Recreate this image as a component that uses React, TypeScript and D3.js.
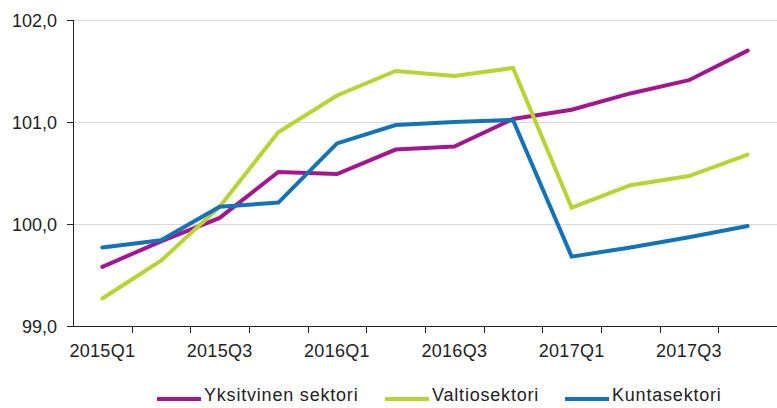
import React, { useEffect, useRef } from "react";
import * as d3 from "d3";

const quarters = [
  "2015Q1", "2015Q2", "2015Q3", "2015Q4",
  "2016Q1", "2016Q2", "2016Q3", "2016Q4",
  "2017Q1", "2017Q2", "2017Q3", "2017Q4",
];

const yksityinen = [99.58, 99.83, 100.06, 100.51, 100.49, 100.73, 100.76, 101.03, 101.12, 101.28, 101.41, 101.7];
const valtio     = [99.27, 99.64, 100.17, 100.9, 101.26, 101.5, 101.45, 101.53, 100.16, 100.38, 100.47, 100.68];
const kunta      = [99.77, 99.84, 100.17, 100.21, 100.79, 100.97, 101.0, 101.02, 99.68, 99.77, 99.87, 99.98];

const yTicks = [99, 100, 101, 102];

const seriesNames  = ["Yksitvinen sektori", "Valtiosektori", "Kuntasektori"];
const seriesColors = ["#a3168f", "#b8d332", "#1274b6"];

const W = 777;
const H = 408;

const App: React.FC = () => {
  const svgRef = useRef<SVGSVGElement>(null);

  useEffect(() => {
    document.body.style.margin = "0";
    if (!svgRef.current) return;
    const svg = d3.select(svgRef.current);
    svg.selectAll("*").remove();

    const left = 73, right = 777, top = 20, bottom = 326;
    const font = "'Liberation Sans', Arial, sans-serif";

    const x = d3.scaleBand<string>().domain(quarters).range([left, right]).padding(0);
    const y = d3.scaleLinear().domain([99, 102]).range([bottom, top]);

    // gridlines
    svg.append("g")
      .selectAll("line")
      .data(yTicks.filter(t => t > 99))
      .join("line")
      .attr("x1", left)
      .attr("x2", right)
      .attr("y1", d => Math.round(y(d)) + 0.5)
      .attr("y2", d => Math.round(y(d)) + 0.5)
      .attr("stroke", "#d9d9d9")
      .attr("stroke-width", 1);

    // y axis
    const yAxis = svg.append("g");
    yAxis.append("line")
      .attr("x1", left + 0.5).attr("x2", left + 0.5)
      .attr("y1", top).attr("y2", bottom)
      .attr("stroke", "#222");
    yTicks.forEach(t => {
      const yy = Math.round(y(t)) + 0.5;
      yAxis.append("line")
        .attr("x1", left - 6).attr("x2", left)
        .attr("y1", yy).attr("y2", yy)
        .attr("stroke", "#222");
      yAxis.append("text")
        .attr("x", 57)
        .attr("y", yy + 6)
        .attr("text-anchor", "end")
        .attr("font-family", font)
        .attr("font-size", 18)
        .attr("fill", "#222")
        .text(d3.format(".1f")(t).replace(".", ","));
    });

    // x axis
    const xAxis = svg.append("g");
    xAxis.append("line")
      .attr("x1", left).attr("x2", right)
      .attr("y1", bottom + 0.5).attr("y2", bottom + 0.5)
      .attr("stroke", "#222");
    quarters.forEach((q, i) => {
      const xx = Math.round(x(q)!) + 0.5;
      if (i > 0) {
        xAxis.append("line")
          .attr("x1", xx).attr("x2", xx)
          .attr("y1", bottom).attr("y2", bottom + 7)
          .attr("stroke", "#222");
      }
      if (i % 2 === 0) {
        xAxis.append("text")
          .attr("x", x(q)! + x.bandwidth() / 2)
          .attr("y", 357)
          .attr("text-anchor", "middle")
          .attr("font-family", font)
          .attr("font-size", 18)
          .attr("letter-spacing", 0.3)
          .attr("fill", "#222")
          .text(q);
      }
    });

    // lines
    const line = d3.line<number>()
      .x((_, i) => x(quarters[i])! + x.bandwidth() / 2)
      .y(d => y(d));

    [yksityinen, valtio, kunta].forEach((vals, k) => {
      svg.append("path")
        .datum(vals)
        .attr("d", line)
        .attr("fill", "none")
        .attr("stroke", seriesColors[k])
        .attr("stroke-width", 4)
        .attr("stroke-linejoin", "miter")
        .attr("stroke-linecap", "round");
    });

    // legend
    const legendX = [157, 385, 565];
    const legend = svg.append("g");
    seriesNames.forEach((name, k) => {
      legend.append("line")
        .attr("x1", legendX[k]).attr("x2", legendX[k] + 44)
        .attr("y1", 399).attr("y2", 399)
        .attr("stroke", seriesColors[k])
        .attr("stroke-width", 4);
      legend.append("text")
        .attr("x", legendX[k] + 47)
        .attr("y", 401)
        .attr("font-family", font)
        .attr("font-size", 18)
        .attr("letter-spacing", 0.8)
        .attr("fill", "#222")
        .text(name);
    });
  }, []);

  return <svg ref={svgRef} width={W} height={H} style={{ display: "block", background: "#fff" }} />;
};

export default App;
